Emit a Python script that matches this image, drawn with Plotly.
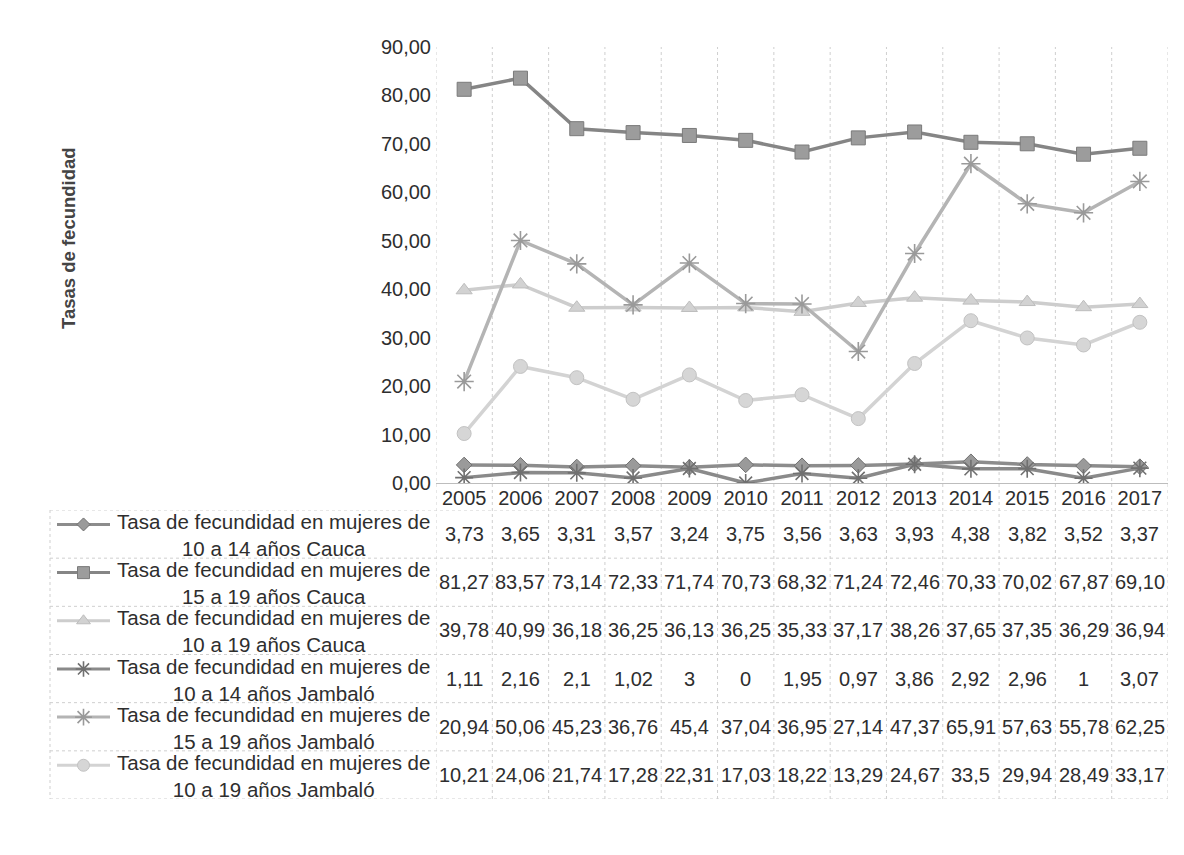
import plotly.graph_objects as go

# page body has an 8px margin: the figure's origin sits at (8, 8) on screen
OFF = 8
W, H = 1184 - OFF, 855 - OFF

years = ["2005", "2006", "2007", "2008", "2009", "2010", "2011",
         "2012", "2013", "2014", "2015", "2016", "2017"]

series_names = [
    "Tasa de fecundidad en mujeres de<br>10 a 14 años Cauca",
    "Tasa de fecundidad en mujeres de<br>15 a 19 años Cauca",
    "Tasa de fecundidad en mujeres de<br>10 a 19 años Cauca",
    "Tasa de fecundidad en mujeres de<br>10 a 14 años Jambaló",
    "Tasa de fecundidad en mujeres de<br>15 a 19 años Jambaló",
    "Tasa de fecundidad en mujeres de<br>10 a 19 años Jambaló",
]

cauca_10_14 = [3.73, 3.65, 3.31, 3.57, 3.24, 3.75, 3.56, 3.63, 3.93, 4.38, 3.82, 3.52, 3.37]
cauca_15_19 = [81.27, 83.57, 73.14, 72.33, 71.74, 70.73, 68.32, 71.24, 72.46, 70.33, 70.02, 67.87, 69.10]
cauca_10_19 = [39.78, 40.99, 36.18, 36.25, 36.13, 36.25, 35.33, 37.17, 38.26, 37.65, 37.35, 36.29, 36.94]
jambalo_10_14 = [1.11, 2.16, 2.1, 1.02, 3, 0, 1.95, 0.97, 3.86, 2.92, 2.96, 1, 3.07]
jambalo_15_19 = [20.94, 50.06, 45.23, 36.76, 45.4, 37.04, 36.95, 27.14, 47.37, 65.91, 57.63, 55.78, 62.25]
jambalo_10_19 = [10.21, 24.06, 21.74, 17.28, 22.31, 17.03, 18.22, 13.29, 24.67, 33.5, 29.94, 28.49, 33.17]

all_series = [cauca_10_14, cauca_15_19, cauca_10_19,
              jambalo_10_14, jambalo_15_19, jambalo_10_19]
# number format of each table row (Excel): fixed 2 decimals or general
row_fixed2 = [True, True, True, False, False, False]

styles = [
    dict(line=dict(color="#8c8c8c", width=3.5),
         marker=dict(symbol="diamond", size=12, color="#9a9a9a",
                     line=dict(color="#707070", width=1))),
    dict(line=dict(color="#858585", width=3.5),
         marker=dict(symbol="square", size=14, color="#9c9c9c",
                     line=dict(color="#7a7a7a", width=1))),
    dict(line=dict(color="#cdcdcd", width=3.5),
         marker=dict(symbol="triangle-up", size=14, color="#d2d2d2",
                     line=dict(color="#bdbdbd", width=1))),
    dict(line=dict(color="#8a8a8a", width=3.5),
         marker=dict(symbol="asterisk-open", size=15, color="#707070",
                     line=dict(color="#707070", width=1.6))),
    dict(line=dict(color="#b4b4b4", width=3.5),
         marker=dict(symbol="asterisk-open", size=16, color="#9a9a9a",
                     line=dict(color="#9a9a9a", width=1.6))),
    dict(line=dict(color="#d3d3d3", width=3.5),
         marker=dict(symbol="circle", size=14, color="#d6d6d6",
                     line=dict(color="#c2c2c2", width=1))),
]


def fmt(v, fixed2):
    s = f"{v:.2f}" if fixed2 else f"{v:g}"
    return s.replace(".", ",")


def px(x):
    return (x - OFF) / W


def py(y):
    return 1 - (y - OFF) / H


FONT = "Liberation Sans, Arial, sans-serif"
TXT = "#2e2e2e"
FS = 20

plot_left, plot_right = 436, 1168
plot_top, plot_bottom = 47, 483
table_top, table_bottom = 510, 799
table_left = 50

fig = go.Figure()

# main lines
for vals, st, name in zip(all_series, styles, series_names):
    fig.add_trace(go.Scatter(
        x=years, y=vals, mode="lines+markers",
        name=name.replace("<br>", " "),
        line=st["line"], marker=st["marker"], showlegend=False,
        xaxis="x", yaxis="y"))

# legend keys in the data table (line + single marker in the middle)
for i, st in enumerate(styles):
    fig.add_trace(go.Scatter(
        x=[0, 1], y=[i + 0.30] * 2, mode="lines",
        line=dict(color=st["line"]["color"], width=3),
        showlegend=False, hoverinfo="skip", xaxis="x2", yaxis="y2"))
    key_marker = dict(st["marker"])
    key_marker["size"] = max(10, key_marker.get("size", 12) - 2)
    fig.add_trace(go.Scatter(
        x=[0.5], y=[i + 0.30], mode="markers", marker=key_marker,
        showlegend=False, hoverinfo="skip", xaxis="x2", yaxis="y2"))

annotations = []
# row labels
for i, name in enumerate(series_names):
    annotations.append(dict(
        text=name, xref="paper", yref="y2", x=px(273), y=i + 0.52,
        xanchor="center", yanchor="middle", align="center",
        showarrow=False, font=dict(family=FONT, size=20.5, color=TXT)))
# values
for i, (vals, f2) in enumerate(zip(all_series, row_fixed2)):
    for j, v in enumerate(vals):
        annotations.append(dict(
            text=fmt(v, f2), xref="x", yref="y2", x=j, y=i + 0.5,
            xanchor="center", yanchor="middle", showarrow=False,
            font=dict(family=FONT, size=FS, color=TXT)))

shapes = []
grid = dict(color="#cfcfcf", width=1, dash="dot")
# vertical category boundaries through plot and table
for k in range(len(years) + 1):
    shapes.append(dict(type="line", xref="x", yref="paper",
                       x0=k - 0.5, x1=k - 0.5,
                       y0=py(table_bottom), y1=py(plot_top),
                       line=grid, layer="below"))
# horizontal table row lines
for r in range(len(series_names) + 1):
    shapes.append(dict(type="line", xref="paper", yref="y2",
                       x0=px(table_left), x1=px(plot_right), y0=r, y1=r,
                       line=grid, layer="below"))
# left border of table
shapes.append(dict(type="line", xref="paper", yref="y2",
                   x0=px(table_left), x1=px(table_left), y0=0, y1=6,
                   line=grid, layer="below"))

fig.update_layout(
    width=W, height=H,
    margin=dict(l=0, r=0, t=0, b=0),
    paper_bgcolor="white", plot_bgcolor="white",
    separators=",.",
    font=dict(family=FONT, size=FS, color=TXT),
    xaxis=dict(type="category", domain=[px(plot_left), px(plot_right)],
               range=[-0.5, len(years) - 0.5], showgrid=False,
               showline=True, linecolor="#bdbdbd", linewidth=1,
               ticks="", ticklabelstandoff=-3,
               tickfont=dict(family=FONT, size=FS, color=TXT),
               automargin=False, fixedrange=True),
    yaxis=dict(domain=[py(plot_bottom), py(plot_top)],
               range=[0, 90], dtick=10, tickformat=".2f",
               showgrid=False, zeroline=False, showline=False, ticks="",
               ticklabelstandoff=4,
               tickfont=dict(family=FONT, size=FS, color=TXT),
               automargin=False, fixedrange=True),
    xaxis2=dict(domain=[px(57), px(110)], range=[0, 1], visible=False,
                anchor="y2", fixedrange=True),
    yaxis2=dict(domain=[py(table_bottom), py(table_top)],
                range=[6, 0], visible=False, anchor="x2", fixedrange=True),
    annotations=annotations + [dict(
        text="<b>Tasas de fecundidad</b>", xref="paper", yref="paper",
        x=px(68), y=py(238), textangle=-90, showarrow=False,
        xanchor="center", yanchor="middle",
        font=dict(family=FONT, size=18.5, color="#444444"))],
    shapes=shapes,
)

fig.write_html("out.html")
